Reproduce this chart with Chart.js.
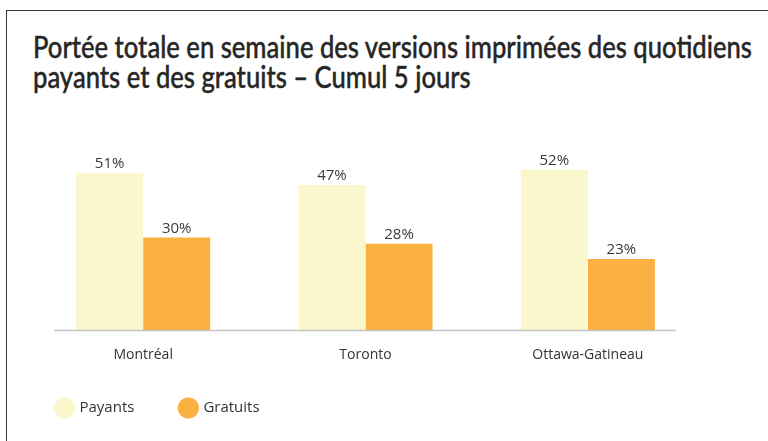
<!DOCTYPE html>
<html lang="fr">
<head>
<meta charset="utf-8">
<script src="https://cdn.jsdelivr.net/npm/chart.js@4"></script>
<style>
  body { margin: 0; background: #fff; }
  #wrap { position: relative; width: 768px; height: 441px; overflow: hidden; }
  #frame {
    position: absolute; left: 6px; top: 10px; right: -4px; bottom: -4px;
    border-top: 1.5px solid #3a3a3a; border-left: 1.5px solid #3a3a3a;
  }
  #title {
    position: absolute; left: 33px; top: 31px; margin: 0;
    font-family: Lato, sans-serif; font-weight: 500; font-size: 30px;
    line-height: 30px; color: #262626; white-space: nowrap;
    -webkit-text-stroke: 0.4px #262626;
    transform-origin: 0 0;
  }
  #box { position: absolute; left: 0; top: 0; width: 768px; height: 441px; }
</style>
</head>
<body>
<div id="wrap">
  <div id="frame"></div>
  <h1 id="title">Portée totale en semaine des versions imprimées des quotidiens<br>payants et des gratuits – Cumul 5 jours</h1>
  <div id="box"><canvas id="barChart"></canvas></div>
</div>
<script>
const bar = document.getElementById("barChart");

const labels = ["Montréal", "Toronto", "Ottawa-Gatineau"];
const payants = [51, 47, 52];
const gratuits = [30, 28, 23];

// squeeze the title onto the same width as the original
const title = document.getElementById("title");
const titleWidth = title.getBoundingClientRect().width;
title.style.transform = "scaleX(" + (719 / titleWidth) + ")";

const valueLabels = {
  id: "valueLabels",
  afterDatasetsDraw(chart) {
    const ctx = chart.ctx;
    ctx.save();
    ctx.font = "15px 'Open Sans'";
    ctx.fillStyle = "#3a3a3a";
    ctx.textAlign = "center";
    ctx.textBaseline = "alphabetic";
    chart.data.datasets.forEach((ds, i) => {
      chart.getDatasetMeta(i).data.forEach((el, j) => {
        ctx.fillText(ds.data[j] + "%", el.x, el.y - 5);
      });
    });
    ctx.restore();
  },
};

const baseLine = {
  id: "baseLine",
  afterDatasetsDraw(chart) {
    const { ctx, chartArea } = chart;
    ctx.save();
    ctx.strokeStyle = "#c4c4c4";
    ctx.lineWidth = 1.5;
    ctx.beginPath();
    ctx.moveTo(chartArea.left + 22, chartArea.bottom + 0.5);
    ctx.lineTo(chartArea.right - 23, chartArea.bottom + 0.5);
    ctx.stroke();
    ctx.restore();
  },
};

// the x labels sit a bit below the axis box, so don't let it clip them
const labelRoom = {
  id: "labelRoom",
  afterLayout(chart) {
    chart.scales.x.bottom += 10;
  },
};

const barChart = new Chart(bar, {
  type: "bar",
  data: {
    labels: labels,
    datasets: [
      {
        label: "Payants",
        backgroundColor: "#faf7cd",
        data: payants,
      },
      {
        label: "Gratuits",
        backgroundColor: "#fbb142",
        data: gratuits,
      },
    ],
  },
  options: {
    responsive: true,
    maintainAspectRatio: false,
    animation: false,
    barPercentage: 1,
    categoryPercentage: 0.603,
    layout: {
      padding: { top: 145, left: 10.5, right: 69, bottom: 15.5 },
    },
    scales: {
      x: {
        grid: { display: false },
        border: { display: false },
        ticks: {
          color: "#333",
          padding: 9,
          font: { family: "'Open Sans'", size: 14 },
        },
        afterFit: (scale) => {
          scale.height = 24;
        },
      },
      y: {
        min: 0,
        max: 60,
        grid: { display: false },
        border: { display: false },
        ticks: { display: false },
        afterFit: (scale) => {
          scale.width = 21.5;
        },
      },
    },
    plugins: {
      legend: {
        position: "bottom",
        align: "start",
        labels: {
          usePointStyle: true,
          pointStyle: "circle",
          padding: 46.5,
          color: "#333",
          font: { family: "'Open Sans'", size: 15 },
        },
      },
      tooltip: { enabled: false },
    },
  },
  plugins: [valueLabels, baseLine, labelRoom],
});
</script>
</body>
</html>
